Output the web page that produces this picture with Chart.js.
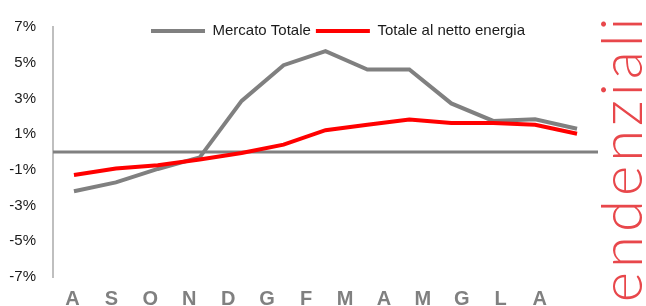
<!DOCTYPE html>
<html>
<head>
<meta charset="utf-8">
<script src="https://cdn.jsdelivr.net/npm/chart.js@4/dist/chart.umd.min.js"></script>
<style>
  html, body { margin: 0; padding: 0; background: #ffffff; overflow: hidden; }
  #wrap { position: relative; width: 646px; height: 306px; overflow: hidden; }
  #c { position: absolute; left: 0; top: 0; }
  #side {
    position: absolute; left: 591px; top: 326px;
    transform-origin: 0 0; transform: rotate(-90deg);
    white-space: nowrap; font-family: Lato, "Open Sans", sans-serif; font-weight: 300;
    font-size: 58px; line-height: 1; color: #e8474b; letter-spacing: 4px;
  }
</style>
</head>
<body>
<div id="wrap">
  <canvas id="c" width="646" height="306"></canvas>
  <div id="side">tendenziali</div>
</div>
<script>
const months = ['A','S','O','N','D','G','F','M','A','M','G','L','A'];
const tickLabels = ['A','S','O','N','D','G','F','M','A','M','G','L','A',''];
const mercatoTotale = [-2.2, -1.7, -0.95, -0.3, 2.86, 4.86, 5.65, 4.62, 4.62, 2.72, 1.74, 1.83, 1.3];
const nettoEnergia = [-1.29, -0.92, -0.74, -0.42, -0.06, 0.41, 1.22, 1.52, 1.82, 1.63, 1.63, 1.52, 1.02];
const seriesNames = ['Mercato Totale', 'Totale al netto energia'];

const zeroLine = {
  id: 'zeroLine',
  beforeDatasetsDraw(chart) {
    const {ctx, chartArea, scales} = chart;
    const y = scales.y.getPixelForValue(0);
    ctx.save();
    ctx.strokeStyle = '#808080';
    ctx.lineWidth = 3;
    ctx.beginPath();
    ctx.moveTo(chartArea.left, y);
    ctx.lineTo(chartArea.right, y);
    ctx.stroke();
    ctx.restore();
  }
};
const legendPlace = {
  id: 'legendPlace',
  beforeDraw(chart) {
    const lg = chart.legend;
    const h = lg.bottom - lg.top;
    lg.left = 30; lg.right = 646;
    lg.top = 18.5; lg.bottom = 18.5 + h;
  }
};

new Chart(document.getElementById('c'), {
  type: 'line',
  data: {
    labels: months,
    datasets: [
      { label: seriesNames[0], data: mercatoTotale, borderColor: '#808080', backgroundColor: '#808080',
        borderWidth: 4, pointRadius: 0, tension: 0, order: 1, xAxisID: 'x', yAxisID: 'y' },
      { label: seriesNames[1], data: nettoEnergia, borderColor: '#ff0000', backgroundColor: '#ff0000',
        borderWidth: 4, pointRadius: 0, tension: 0, order: 0, xAxisID: 'x', yAxisID: 'y' }
    ]
  },
  options: {
    responsive: false,
    animation: false,
    devicePixelRatio: 1,
    layout: { padding: { left: 0, right: 48, top: -3, bottom: 0 } },
    plugins: {
      tooltip: { enabled: false },
      legend: {
        display: true,
        position: 'top',
        labels: {
          usePointStyle: true, pointStyle: 'line', pointStyleWidth: 54,
          padding: 5, color: '#1a1a1a',
          font: { family: '"Liberation Sans", Arial, sans-serif', size: 15 },
          sort: (a, b) => a.datasetIndex - b.datasetIndex
        }
      }
    },
    scales: {
      x: {
        type: 'category', display: false, offset: true,
        grid: { display: false }
      },
      x2: {
        type: 'category', position: 'bottom', labels: tickLabels, offset: true,
        grid: { display: false, drawTicks: false }, border: { display: false },
        ticks: { color: '#808080', padding: 10, autoSkip: false, maxRotation: 0,
          font: { family: '"Liberation Sans Narrow", "Arial Narrow", "Liberation Sans", Arial, sans-serif', size: 20, weight: 'bold' } },
        afterFit(s) { s.height = 29; }
      },
      y: {
        min: -7, max: 7,
        grid: { display: false, drawTicks: false },
        border: { display: true, color: '#bfbfbf', width: 2 },
        ticks: { stepSize: 2, padding: 17, color: '#1a1a1a',
          font: { family: '"Liberation Sans", Arial, sans-serif', size: 15 },
          callback: (v) => v + '%' },
        afterFit(s) { s.width = 53; }
      }
    }
  },
  plugins: [zeroLine, legendPlace]
});
</script>
</body>
</html>
